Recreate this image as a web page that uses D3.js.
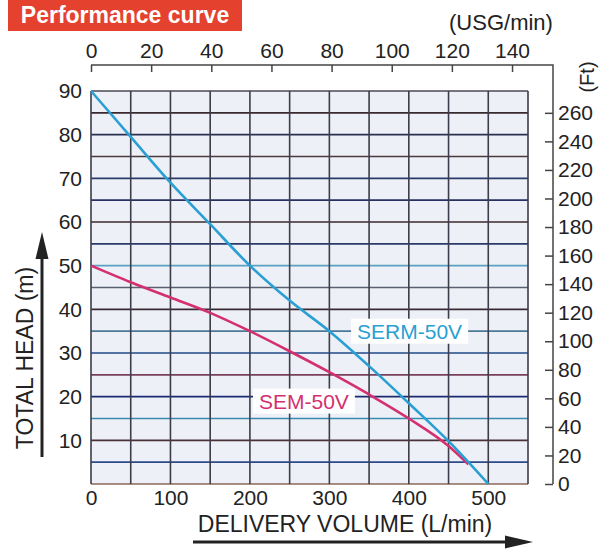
<!DOCTYPE html>
<html>
<head>
<meta charset="utf-8">
<script src="https://cdn.jsdelivr.net/npm/d3@7/dist/d3.min.js"></script>
<style>
  html, body { margin: 0; padding: 0; background: #ffffff; }
  svg { display: block; }
  text { font-family: "Liberation Sans", Arial, Helvetica, sans-serif; fill: #222; }
</style>
</head>
<body>
<svg id="chart" width="601" height="552"></svg>
<script>
// ---- data ----
const titleText = "Performance curve";
const xTitle = "DELIVERY VOLUME (L/min)";
const yTitle = "TOTAL HEAD (m)";
const topUnit = "(USG/min)";
const rightUnit = "(Ft)";

const sermFlow = [0, 50, 100, 150, 200, 250, 300, 350, 400, 450, 500];
const sermHead = [90, 79.5, 69, 59.5, 50, 42, 35, 27, 18.5, 9.8, 0];
const semFlow  = [0, 50, 100, 150, 200, 250, 300, 350, 400, 450, 475];
const semHead  = [50, 46.2, 42.7, 39.2, 35, 30.4, 25.6, 20.5, 15, 8.7, 4.5];

const seriesNames = ["SERM-50V", "SEM-50V"];
const seriesLabelAt = [[401, 35], [268, 19]];

const xTicks = [0, 100, 200, 300, 400, 500];
const yTicks = [10, 20, 30, 40, 50, 60, 70, 80, 90];
const usgTicks = [0, 20, 40, 60, 80, 100, 120, 140];
const ftTicks = [0, 20, 40, 60, 80, 100, 120, 140, 160, 180, 200, 220, 240, 260];
const xGrid = d3.range(0, 551, 50);
const yGrid = d3.range(0, 91, 5);
const L_PER_USG = 3.785;

// ---- styles ----
const colBlue = "#2a9fd3";
const colPink = "#d4306f";
const gridHColors = {
  0: "#8a6a58", 5: "#2a4a8a", 10: "#4a3038", 15: "#3a8ab0", 20: "#1a2a70",
  25: "#7a4058", 30: "#204a8a", 35: "#4a7a98", 40: "#3a2a30", 45: "#5a6070",
  50: "#5aa0c0", 55: "#2a3a6a", 60: "#3a2a2a", 65: "#2a3060", 70: "#2a3a6a",
  75: "#4a3a3a", 80: "#2a3050", 85: "#3a2a30", 90: "#4a4a58"
};

const svg = d3.select("#chart");

const x = d3.scaleLinear().domain([0, 550]).range([91, 528]);
const y = d3.scaleLinear().domain([0, 90]).range([484, 91]);
const usg = d3.scaleLinear().domain([0, 550 / L_PER_USG]).range(x.range());
const ft = d3.scaleLinear().domain([0, 260]).range([y(0), y(85)]);

const topAxisY = y(90) - 26;
const rightAxisX = x(550) + 25;

// Title box
svg.append("rect").attr("x", 8).attr("y", 0).attr("width", 234).attr("height", 31)
  .attr("fill", "#e5412f");
svg.append("text").attr("x", 125).attr("y", 23).attr("text-anchor", "middle")
  .style("font-weight", "bold").style("font-size", "23px").style("fill", "#fff")
  .text(titleText);

// Plot background
svg.append("rect").attr("x", x(0)).attr("y", y(90))
  .attr("width", x(550) - x(0)).attr("height", y(0) - y(90))
  .attr("fill", "#eef0f8");

// Grid
svg.append("g").selectAll("line").data(yGrid).join("line")
  .attr("x1", x(0)).attr("x2", x(550))
  .attr("y1", d => y(d)).attr("y2", d => y(d))
  .attr("stroke", d => gridHColors[d]).attr("stroke-width", 1.7);
svg.append("g").selectAll("line").data(xGrid).join("line")
  .attr("x1", d => x(d)).attr("x2", d => x(d))
  .attr("y1", y(0)).attr("y2", y(90))
  .attr("stroke", "#3c3c4a").attr("stroke-width", 1.6);

// Curves
const line = d3.line().curve(d3.curveMonotoneX).x(d => x(d[0])).y(d => y(d[1]));
const sermData = sermFlow.map((f, i) => [f, sermHead[i]]);
const semData = semFlow.map((f, i) => [f, semHead[i]]);
svg.append("path").datum(semData).attr("d", line)
  .attr("fill", "none").attr("stroke", colPink).attr("stroke-width", 2.6);
svg.append("path").datum(sermData).attr("d", line)
  .attr("fill", "none").attr("stroke", colBlue).attr("stroke-width", 2.6);

// Series labels with white backing
[colBlue, colPink].forEach((c, i) => {
  const g = svg.append("g");
  const bg = g.append("rect").attr("fill", "#ffffff");
  const t = g.append("text")
    .attr("x", x(seriesLabelAt[i][0])).attr("y", y(seriesLabelAt[i][1]))
    .attr("text-anchor", "middle").attr("dy", "0.36em")
    .style("font-size", "21px").style("fill", c).text(seriesNames[i]);
  const b = t.node().getBBox();
  bg.attr("x", b.x - 6).attr("y", b.y - 1).attr("width", b.width + 12).attr("height", b.height + 2);
});

// Left axis labels
const gl = svg.append("g").attr("transform", `translate(${x(0)},0)`)
  .call(d3.axisLeft(y).tickValues(yTicks).tickSize(0).tickPadding(9));
gl.select(".domain").remove();
gl.selectAll("text").style("font-size", "21px").style("fill", "#222")
  .style("font-family", '"Liberation Sans", Arial, sans-serif');

// Bottom axis labels
const gb = svg.append("g").attr("transform", `translate(0,${y(0)})`)
  .call(d3.axisBottom(x).tickValues(xTicks).tickSize(0).tickPadding(6));
gb.select(".domain").remove();
gb.selectAll("text").style("font-size", "21px").style("fill", "#222")
  .style("font-family", '"Liberation Sans", Arial, sans-serif');

// Top axis (USG/min)
const gt = svg.append("g").attr("transform", `translate(0,${topAxisY})`)
  .call(d3.axisTop(usg).tickValues(usgTicks).tickSizeInner(-7).tickSizeOuter(0).tickPadding(7));
gt.select(".domain").remove();
gt.selectAll("line").attr("stroke", "#444").attr("stroke-width", 1.5);
gt.selectAll("text").style("font-size", "21px").style("fill", "#222")
  .style("font-family", '"Liberation Sans", Arial, sans-serif');

// Right axis (Ft)
const gr = svg.append("g").attr("transform", `translate(${rightAxisX},0)`)
  .call(d3.axisRight(ft).tickValues(ftTicks).tickSizeInner(-8).tickSizeOuter(0).tickPadding(5));
gr.select(".domain").remove();
gr.selectAll("line").attr("stroke", "#444").attr("stroke-width", 1.5);
gr.selectAll("text").style("font-size", "21px").style("fill", "#222")
  .style("font-family", '"Liberation Sans", Arial, sans-serif');

// Bracket lines for top/right axes
svg.append("path")
  .attr("d", `M${x(0)},${topAxisY}H${rightAxisX}V${ft(0)}`)
  .attr("fill", "none").attr("stroke", "#444").attr("stroke-width", 1.5);

// Unit labels
svg.append("text").attr("x", 501).attr("y", 30).attr("text-anchor", "middle")
  .style("font-size", "22px").text(topUnit);
svg.append("text").attr("transform", `translate(594,77) rotate(-90)`)
  .attr("text-anchor", "middle").style("font-size", "20px").text(rightUnit);

// Axis titles
svg.append("text").attr("x", 345).attr("y", 532).attr("text-anchor", "middle")
  .style("font-size", "23px").text(xTitle);
svg.append("text").attr("transform", `translate(33,358) rotate(-90)`)
  .attr("text-anchor", "middle").style("font-size", "23px").text(yTitle);

// Arrows
svg.append("line").attr("x1", 42).attr("x2", 42).attr("y1", 457).attr("y2", 252)
  .attr("stroke", "#222").attr("stroke-width", 3);
svg.append("path").attr("d", "M42,232L35.5,259L48.5,259Z").attr("fill", "#222");
svg.append("line").attr("x1", 193).attr("x2", 512).attr("y1", 542).attr("y2", 542)
  .attr("stroke", "#222").attr("stroke-width", 3);
svg.append("path").attr("d", "M533,542L505,535.5L505,548.5Z").attr("fill", "#222");
</script>
</body>
</html>
